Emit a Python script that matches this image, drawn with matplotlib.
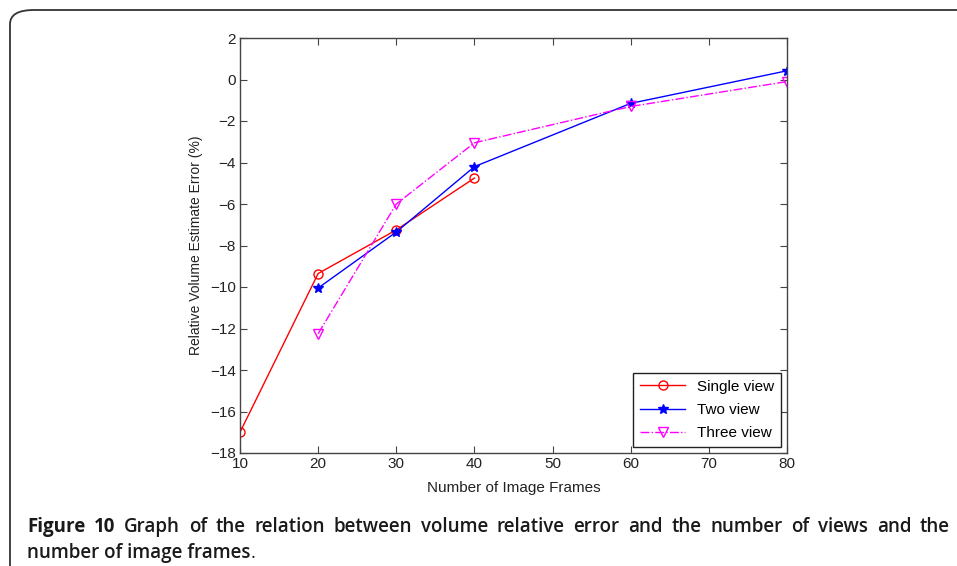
import matplotlib
matplotlib.use("Agg")
import matplotlib.pyplot as plt
from matplotlib.patches import FancyBboxPatch

# data
frames_single = [10, 20, 30, 40]
err_single = [-17.0, -9.35, -7.25, -4.75]
frames_two = [20, 30, 40, 60, 80]
err_two = [-10.05, -7.35, -4.2, -1.15, 0.42]
frames_three = [20, 30, 40, 60, 80]
err_three = [-12.25, -6.0, -3.05, -1.3, -0.1]

x_ticks = [10, 20, 30, 40, 50, 60, 70, 80]
y_ticks = list(range(-18, 3, 2))

caption_bold = ["Figure", "10"]
caption_line1 = ("Graph of the relation between volume relative error "
                 "and the number of views and the").split()
caption_line2 = "number of image frames"

plt.rcParams['font.family'] = ['Liberation Sans', 'DejaVu Sans']

W, H = 957, 566
fig = plt.figure(figsize=(W / 100, H / 100), dpi=100)

# rounded frame around the panel, open past the right and bottom edges
frame = FancyBboxPatch((10 / W, -0.2), 1.2, 1.2 - 10 / H,
                       boxstyle="round,pad=0,rounding_size=0.025",
                       transform=fig.transFigure, facecolor='none',
                       edgecolor='#333333', linewidth=1.3)
fig.patches.append(frame)

ax = fig.add_axes([240 / W, 1 - 453 / H, 547 / W, 415 / H])

ax.plot(frames_single, err_single, '-o', color='red', mfc='none',
        markersize=6.5, linewidth=1, label='Single view')
ax.plot(frames_two, err_two, '-*', color='blue', markersize=7,
        linewidth=1, label='Two view')
ax.plot(frames_three, err_three, '-.v', color='magenta', mfc='none',
        markersize=7, linewidth=1, label='Three view')

ax.set_xlim(10, 80)
ax.set_ylim(-18, 2)
ax.set_xticks(x_ticks)
ax.set_yticks(y_ticks)
ax.tick_params(direction='in', top=True, right=True, labelsize=11,
               length=5, color='#444444', labelcolor='#222222', pad=3)
for s in ax.spines.values():
    s.set_color('#444444')
    s.set_linewidth(1)

ax.set_xlabel("Number of Image Frames", fontsize=11, labelpad=7,
              color='#222222')
ax.set_ylabel("Relative Volume Estimate Error (%)", fontsize=10,
              labelpad=5, color='#222222')

leg = ax.legend(loc='lower right', fontsize=11, fancybox=False,
                edgecolor='#222222', framealpha=1, borderaxespad=0.4,
                handlelength=2.9, labelspacing=0.6, borderpad=0.45)
leg.get_frame().set_linewidth(1)

# justified caption, first line placed word by word
cap_font = ['Open Sans', 'DejaVu Sans']
cap_size = 13.5
cap_color = '#1a1a1a'
x0, x1 = 27 / W, 950 / W
y_line1, y_line2 = 1 - 532 / H, 1 - 558 / H

words = []
for w in caption_bold:
    words.append(fig.text(x0, y_line1, w, fontsize=cap_size,
                          fontweight='bold', family=cap_font,
                          color=cap_color, va='baseline'))
for w in caption_line1:
    words.append(fig.text(x0, y_line1, w, fontsize=cap_size,
                          fontweight='semibold', family=cap_font,
                          color=cap_color, va='baseline'))

t2 = fig.text(x0, y_line2, caption_line2, fontsize=cap_size,
              fontweight='semibold', family=cap_font, color=cap_color,
              va='baseline')

fig.canvas.draw()
r = fig.canvas.get_renderer()
widths = [t.get_window_extent(r).width / W for t in words]
gap = (x1 - x0 - sum(widths)) / (len(words) - 1)
x = x0
for t, wd in zip(words, widths):
    t.set_x(x)
    x += wd + gap

# trailing full stop in regular weight
end_x = t2.get_window_extent(r).x1 / W
fig.text(end_x, y_line2, ".", fontsize=cap_size, family=cap_font,
         color=cap_color, va='baseline')

plt.savefig("out.png", dpi=100)
